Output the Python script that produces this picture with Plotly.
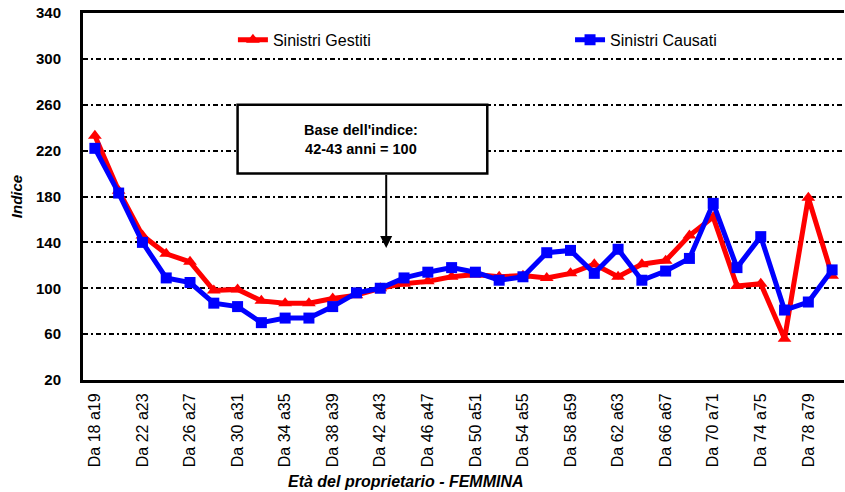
import plotly.graph_objects as go

categories = [f"Da {a} a{a+1}" for a in range(18, 82, 2)]
gestiti = [233, 185, 146, 130, 123, 98, 99, 89, 87, 87, 91, 94, 100, 104, 106, 110,
           112, 110, 111, 109, 113, 121, 110, 121, 124, 146, 162, 102, 104, 56, 179, 111]
causati = [222, 183, 140, 109, 105, 87, 84, 70, 74, 74, 84, 96, 100, 109, 114, 118,
           114, 107, 110, 131, 133, 113, 134, 107, 115, 126, 174, 118, 145, 81, 88, 116]
y_ticks = list(range(20, 341, 40))
x_ticks = categories[::2]

FONT = "Liberation Sans, Arial, sans-serif"

fig = go.Figure()
fig.add_trace(go.Scatter(
    x=categories, y=gestiti, name="Sinistri Gestiti", mode="lines+markers",
    line=dict(color="#ff0000", width=5),
    marker=dict(symbol="triangle-up", size=12, color="#ff0000"),
    legend="legend",
))
fig.add_trace(go.Scatter(
    x=categories, y=causati, name="Sinistri Causati", mode="lines+markers",
    line=dict(color="#0000ff", width=5),
    marker=dict(symbol="square", size=11, color="#0000ff"),
    legend="legend2",
))

legend_common = dict(
    orientation="h", yanchor="middle", xanchor="left", y=0.927,
    font=dict(size=16, family=FONT, color="black"),
    bgcolor="rgba(0,0,0,0)", itemwidth=30,
)

fig.update_layout(
    width=845, height=492,
    margin=dict(l=83, r=1, t=13, b=112),
    paper_bgcolor="white", plot_bgcolor="white",
    font=dict(family=FONT, color="black"),
    showlegend=True,
    legend=dict(x=0.197, **legend_common),
    legend2=dict(x=0.640, **legend_common),
    xaxis=dict(
        type="category", range=[-0.5, 31.5],
        tickmode="array", tickvals=x_ticks, ticktext=x_ticks,
        tickangle=-90, tickfont=dict(size=16, family=FONT),
        showgrid=False, showline=True, linecolor="black", linewidth=3,
        mirror=True, ticks="", zeroline=False, ticklabelstandoff=4,
    ),
    yaxis=dict(
        range=[20, 340], tickmode="array", tickvals=y_ticks,
        tickfont=dict(size=15, family=FONT, weight="bold"),
        showgrid=True, gridcolor="black", gridwidth=2, griddash="5px,3px,2px,3px",
        showline=True, linecolor="black", linewidth=3, mirror=False,
        ticks="", zeroline=False, ticklabelstandoff=16,
        title=dict(text="<b><i>Indice</i></b>", font=dict(size=15, family=FONT), standoff=10),
    ),
)

# x-axis title (offset toward the left as in the reference)
fig.add_annotation(
    xref="paper", yref="paper", x=(406 - 83) / 761, y=-(481 - 380) / 367,
    text="<b><i>Età del proprietario - FEMMINA</i></b>", showarrow=False,
    font=dict(size=16, family=FONT), xanchor="center", yanchor="middle",
)

# annotation box
fig.add_shape(type="rect", xref="x", yref="y", x0=6.0, x1=16.5, y0=200, y1=260,
              line=dict(color="black", width=2.5), fillcolor="white", layer="above")
fig.add_annotation(
    xref="x", yref="y", x=11.2, y=230,
    text="<b>Base dell'indice:<br>42-43 anni = 100</b>", showarrow=False,
    font=dict(size=14.5, family=FONT), align="center",
)
fig.add_annotation(
    xref="x", yref="y", x=12.25, y=135, ax=12.25, ay=200, axref="x", ayref="y",
    text="", showarrow=True, arrowhead=2, arrowsize=1.2, arrowwidth=2, arrowcolor="black",
)

fig.write_html("out.html", config={"displayModeBar": False},
               post_script="document.body.style.margin='0';")
